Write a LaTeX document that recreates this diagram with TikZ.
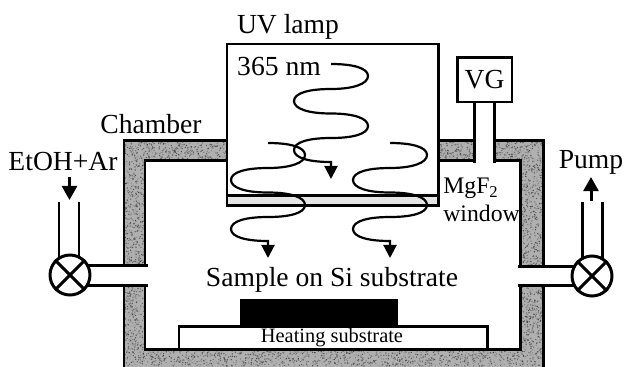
\documentclass[tikz,border=0pt]{standalone}
\usepackage{fontspec}
\setmainfont{Liberation Serif}
\usetikzlibrary{arrows.meta, positioning}
\tikzset{
    wall/.style={line width=1.7pt},
    valve/.style={circle, draw, fill=white, line width=1.7pt, inner sep=0pt, minimum size=0.8cm},
    gauge/.style={rectangle, draw, fill=white, line width=1.7pt, inner sep=0pt, minimum width=1.1cm, minimum height=0.9cm},
    label/.style={inner sep=0pt, font=\fontsize{15.7}{15.7}\selectfont},
    small label/.style={inner sep=0pt, font=\fontsize{13.5}{13.5}\selectfont},
    gas/.style={line width=1.7pt, -{Triangle[length=8pt,width=8.5pt]}},
    pics/uvwave/.style={code={
        \draw[line width=1.25pt, -{Triangle[length=7.5pt,width=7.5pt]}] (0,0)
            .. controls (22,0) and (37,4) .. (37,12)
            .. controls (37,20) and (22,25) .. (0,25)
            .. controls (-22,25) and (-37,29) .. (-37,37)
            .. controls (-37,45) and (-22,49.5) .. (0,49.5)
            .. controls (22,49.5) and (37,54) .. (37,62)
            .. controls (37,70) and (22,74) .. (0,74)
            .. controls (-22,74) and (-37,78) .. (-37,86)
            .. controls (-37,94) and (-22,98) .. (0,98)
            -- (0,115);
    }}
}
\begin{document}
\begin{tikzpicture}[x=0.02cm, y=-0.02cm]
    \useasboundingbox (0,0) rectangle (625,366);
    \clip (0,0) rectangle (625,366);
    \fill[gray!62] (124,140) rectangle (543,370);
    \pgfmathsetseed{365}
    \foreach \xa/\xb/\ya/\yb/\n in {124/145/140/366/1100, 520/543/140/366/1200, 145/520/140/160/1700, 145/520/349/366/1400}{
        \foreach \i in {1,...,\n}{
            \pgfmathsetmacro{\px}{\xa+rnd*(\xb-\xa)}
            \pgfmathsetmacro{\py}{\ya+rnd*(\yb-\ya)}
            \pgfmathsetmacro{\tone}{30+rnd*45}
            \fill[black!\tone] (\px,\py) circle (0.4pt);
        }
    }
    \fill[white] (145,160) rectangle (520,349);
    \fill[white] (120,265) rectangle (148,285);
    \fill[white] (518,266) rectangle (547,285);
    \fill[white] (474,130) rectangle (494,163);

    \coordinate (wallLa) at (124,265);
    \coordinate (wallLb) at (124,285);
    \coordinate (wallRa) at (543,266);
    \coordinate (wallRb) at (543,285);
    \draw[wall] (wallLa) -- (124,140) -- (474,140);
    \draw[wall] (494,140) -- (543,140) -- (wallRa);
    \draw[wall] (wallLb) -- (124,370);
    \draw[wall] (wallRb) -- (543,370);
    \draw[wall] (145,265) -- (145,160) -- (474,160);
    \draw[wall] (494,160) -- (520,160) -- (520,266);
    \draw[wall] (145,285) -- (145,349) -- (520,349) -- (520,285);

    \draw[wall, fill=white] (179,326) rectangle (487,349);
    \fill (240,299) rectangle (398,326);
    \node[inner sep=0pt, font=\fontsize{11.6}{11.6}\selectfont] (heater) at (332,338) {Heating substrate};
    \node[label] (sample) at (332,280) {Sample on Si substrate};

    \draw[wall, fill=white] (227,44) rectangle (438,195);
    \draw[wall, fill=gray!20] (227,195) rectangle (438,205);

    \node[gauge] (vg) at (484.5,79.5) {};
    \node[label] (vgtext) at (vg) {VG};
    \coordinate (neckL) at (474,163);
    \coordinate (neckR) at (494,163);
    \draw[wall] (neckL) -- (neckL |- vg.south);
    \draw[wall] (neckR) -- (neckR |- vg.south);

    \coordinate (valveLpos) at (70,275);
    \coordinate (valveRpos) at (592,276);
    \coordinate (pipeLa) at (148,265);
    \coordinate (pipeLb) at (148,285);
    \coordinate (pipeRa) at (518,266);
    \coordinate (pipeRb) at (518,285);
    \draw[wall] (pipeLa) -- (pipeLa -| valveLpos);
    \draw[wall] (pipeLb) -- (pipeLb -| valveLpos);
    \draw[wall] (pipeRa) -- (pipeRa -| valveRpos);
    \draw[wall] (pipeRb) -- (pipeRb -| valveRpos);

    \coordinate (inletA) at (59,202);
    \coordinate (inletB) at (79,202);
    \coordinate (outletA) at (582,202);
    \coordinate (outletB) at (602,202);
    \draw[wall] (inletA) -- (inletA |- valveLpos);
    \draw[wall] (inletB) -- (inletB |- valveLpos);
    \draw[wall] (outletA) -- (outletA |- valveRpos);
    \draw[wall] (outletB) -- (outletB |- valveRpos);

    \node[valve] (valveL) at (valveLpos) {};
    \node[valve] (valveR) at (valveRpos) {};
    \draw[wall] (valveL.45) -- (valveL.225);
    \draw[wall] (valveL.135) -- (valveL.315);
    \draw[wall] (valveR.45) -- (valveR.225);
    \draw[wall] (valveR.135) -- (valveR.315);

    \node[label] (etoh) at (63,161) {EtOH+Ar};
    \node[label] (pump) at (591,162) {Pump};
    \coordinate (gasin) at (69.5,177);
    \coordinate (gasinend) at (69.5,200);
    \coordinate (gasout) at (591,201);
    \coordinate (gasoutend) at (591,177);
    \draw[gas] (gasin) -- (gasinend);
    \draw[gas] (gasout) -- (gasoutend);

    \node[label] (lamp) at (288,27) {UV lamp};
    \node[label] (uvnm) at (279,66) {365 nm};
    \node[label] (chamber) at (151,124) {Chamber};
    \node[small label, anchor=west] (mgf) at (443,188) {MgF\textsubscript{2}};
    \node[small label, anchor=west] (window) at (443,213) {window};

    \pic at (331,64) {uvwave};
    \pic at (268,143) {uvwave};
    \pic at (390,143) {uvwave};
\end{tikzpicture}
\end{document}
